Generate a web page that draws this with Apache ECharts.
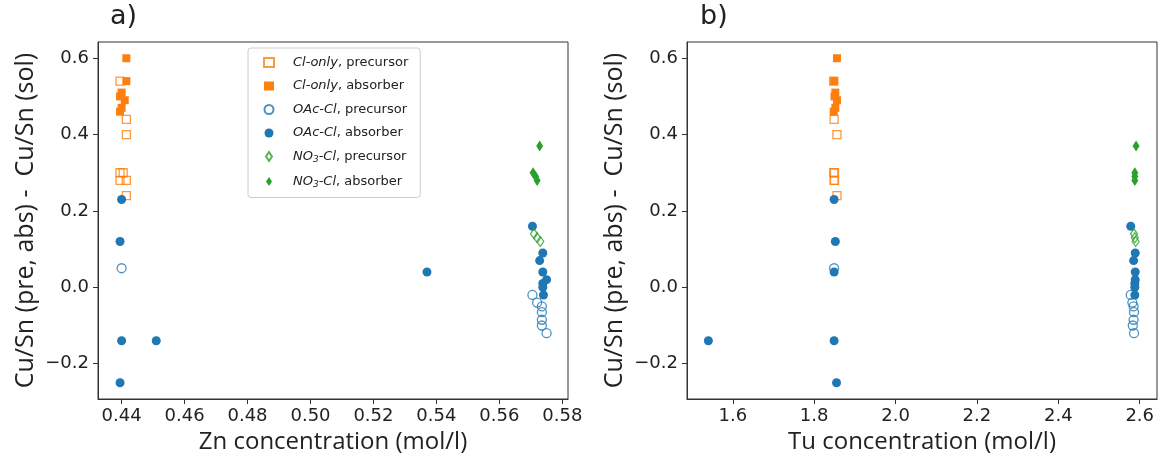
<!DOCTYPE html>
<html>
<head>
<meta charset="utf-8">
<script src="https://cdn.jsdelivr.net/npm/echarts@6/dist/echarts.min.js"></script>
<style>
  html, body { margin: 0; background: #fff; }
  #chart { width: 1168px; height: 459px; }
</style>
</head>
<body>
<div id="chart"></div>
<script>
// tick labels
const znTicks = [0.44, 0.46, 0.48, 0.50, 0.52, 0.54, 0.56, 0.58]
const tuTicks = [1.6, 1.8, 2.0, 2.2, 2.4, 2.6]
const yTicks = [-0.2, 0.0, 0.2, 0.4, 0.6]

// Cl-only, precursor
const clPreY = [0.54, 0.44, 0.40, 0.30, 0.30, 0.28, 0.28, 0.24]
const clPreZn = [0.4395, 0.4415, 0.4415, 0.4395, 0.4405, 0.4395, 0.4415, 0.4415]
const clPreTu = [1.848, 1.849, 1.856, 1.848, 1.850, 1.849, 1.850, 1.856]
// Cl-only, absorber
const clAbsY = [0.60, 0.54, 0.51, 0.50, 0.49, 0.47, 0.46]
const clAbsZn = [0.4415, 0.4415, 0.4400, 0.4395, 0.4410, 0.4400, 0.4395]
const clAbsTu = [1.856, 1.849, 1.852, 1.850, 1.856, 1.852, 1.848]
// OAc-Cl, precursor
const oacPreY = [0.05, -0.02, -0.04, -0.05, -0.065, -0.085, -0.10, -0.12]
const oacPreZn = [0.4400, 0.5705, 0.5720, 0.5735, 0.5735, 0.5735, 0.5735, 0.5750]
const oacPreTu = [1.849, 2.578, 2.582, 2.585, 2.586, 2.585, 2.583, 2.586]
// OAc-Cl, absorber
const oacAbsY = [0.23, 0.12, 0.04, -0.14, -0.14, -0.25, 0.16, 0.09, 0.07, 0.04, 0.02, 0.01, 0.0, -0.02]
const oacAbsZn = [0.4400, 0.4395, 0.5370, 0.4400, 0.4510, 0.4395, 0.5705, 0.5738, 0.5728, 0.5738, 0.5750, 0.5738, 0.5738, 0.5740]
const oacAbsTu = [1.849, 1.852, 1.849, 1.849, 1.540, 1.855, 2.578, 2.589, 2.585, 2.589, 2.589, 2.588, 2.588, 2.588]
// NO3-Cl, precursor
const noPreY = [0.14, 0.13, 0.12]
const noPreZn = [0.5710, 0.5720, 0.5730]
const noPreTu = [2.586, 2.588, 2.590]
// NO3-Cl, absorber
const noAbsY = [0.37, 0.30, 0.29, 0.28]
const noAbsZn = [0.5728, 0.5707, 0.5715, 0.5720]
const noAbsTu = [2.591, 2.588, 2.588, 2.588]

const orange = '#ff7f0e'
const blue = '#1f77b4'
const green = '#2ca02c'
const txt = '#222'
const spine = '#333'
// thin diamond for the legend, so it keeps its aspect
const thinDiamond = 'path://M0,-5L3.3,0L0,5L-3.3,0Z'

const groups = [
  { name: 'Cl-only, precursor', y: clPreY, zn: clPreZn, tu: clPreTu, symbol: 'rect', size: 8, color: orange, open: true },
  { name: 'Cl-only, absorber', y: clAbsY, zn: clAbsZn, tu: clAbsTu, symbol: 'rect', size: 8, color: orange, open: false },
  { name: 'OAc-Cl, precursor', y: oacPreY, zn: oacPreZn, tu: oacPreTu, symbol: 'circle', size: 9, color: blue, open: true },
  { name: 'OAc-Cl, absorber', y: oacAbsY, zn: oacAbsZn, tu: oacAbsTu, symbol: 'circle', size: 9, color: blue, open: false },
  { name: 'NO3-Cl, precursor', y: noPreY, zn: noPreZn, tu: noPreTu, symbol: thinDiamond, size: [7, 10], color: green, open: true },
  { name: 'NO3-Cl, absorber', y: noAbsY, zn: noAbsZn, tu: noAbsTu, symbol: thinDiamond, size: [7, 11], color: green, open: false },
]

function makeSeries(g, panel) {
  const xs = panel === 0 ? g.zn : g.tu
  return {
    name: g.name,
    type: 'scatter',
    xAxisIndex: panel,
    yAxisIndex: panel,
    symbol: g.symbol,
    symbolSize: g.size,
    data: g.y.map((v, i) => [xs[i], v]),
    itemStyle: g.open
      ? { color: 'rgba(255,255,255,0)', borderColor: g.color, borderWidth: 1.3 }
      : { color: g.color, opacity: 1 },
    emphasis: { disabled: true },
  }
}

function xAxisCfg(panel, name, min, max, ticks, digits) {
  return {
    gridIndex: panel,
    type: 'value',
    min,
    max,
    name,
    nameLocation: 'middle',
    nameGap: 31,
    nameTextStyle: { fontFamily: 'Open Sans', fontSize: 24, color: txt },
    axisLine: { show: true, onZero: false, lineStyle: { color: spine, width: 1 } },
    axisTick: { show: true, length: 5, customValues: ticks, lineStyle: { color: spine } },
    axisLabel: {
      customValues: ticks,
      formatter: v => v.toFixed(digits),
      fontFamily: 'DejaVu Sans',
      fontSize: 18,
      color: txt,
      margin: 8,
    },
    splitLine: { show: false },
  }
}

function yAxisCfg(panel) {
  return {
    gridIndex: panel,
    type: 'value',
    min: -0.2925,
    max: 0.6425,
    name: 'Cu/Sn (pre, abs) -  Cu/Sn (sol)',
    nameLocation: 'middle',
    nameGap: 60,
    nameTextStyle: { fontFamily: 'Open Sans', fontSize: 25, color: txt },
    axisLine: { show: true, onZero: false, lineStyle: { color: spine, width: 1 } },
    axisTick: { show: true, length: 5, customValues: yTicks, lineStyle: { color: spine } },
    axisLabel: {
      customValues: yTicks,
      formatter: v => (v < -1e-9 ? '\u2212' : '') + Math.abs(v).toFixed(1),
      fontFamily: 'DejaVu Sans',
      fontSize: 18,
      color: txt,
      margin: 9,
    },
    splitLine: { show: false },
  }
}

// legend text: italic sample name, plain suffix, subscript 3 for NO3
function legendLabel(name) {
  const [pre, post] = name.split(', ')
  const italic = pre.startsWith('NO3')
    ? '{it|NO}{sub|3}{it|' + pre.slice(3) + '}'
    : '{it|' + pre + '}'
  return italic + '{tx|, ' + post + '}'
}

const chart = echarts.init(document.getElementById('chart'))
chart.setOption({
  animation: false,
  title: [
    { text: 'a)', left: 110, top: 3, padding: 0, textStyle: { fontFamily: 'DejaVu Sans', fontSize: 27, fontWeight: 'normal', color: txt } },
    { text: 'b)', left: 700, top: 3, padding: 0, textStyle: { fontFamily: 'DejaVu Sans', fontSize: 27, fontWeight: 'normal', color: txt } },
  ],
  grid: [
    { left: 98, top: 42, width: 470, height: 357, show: true, borderColor: spine, borderWidth: 1 },
    { left: 687, top: 42, width: 470, height: 357, show: true, borderColor: spine, borderWidth: 1 },
  ],
  legend: {
    orient: 'vertical',
    left: 248,
    top: 48,
    padding: [8, 12, 8, 15],
    itemGap: 10.5,
    itemWidth: 10,
    itemHeight: 9,
    borderColor: '#ccc',
    borderWidth: 1,
    borderRadius: 3,
    selectedMode: false,
    data: groups.map(g => g.name),
    formatter: legendLabel,
    textStyle: {
      padding: [0, 0, 0, 14],
      rich: {
        it: { fontFamily: 'DejaVu Sans', fontStyle: 'italic', fontSize: 13, color: txt },
        tx: { fontFamily: 'DejaVu Sans', fontSize: 13, color: txt },
        sub: { fontFamily: 'DejaVu Sans', fontStyle: 'italic', fontSize: 9, padding: [7, 0, 0, 0], color: txt },
      },
    },
  },
  xAxis: [
    xAxisCfg(0, 'Zn concentration (mol/l)', 0.4325, 0.5818, znTicks, 2),
    xAxisCfg(1, 'Tu concentration (mol/l)', 1.4875, 2.6425, tuTicks, 1),
  ],
  yAxis: [yAxisCfg(0), yAxisCfg(1)],
  series: [
    ...groups.map(g => makeSeries(g, 0)),
    ...groups.map(g => makeSeries(g, 1)),
  ],
})
</script>
</body>
</html>
